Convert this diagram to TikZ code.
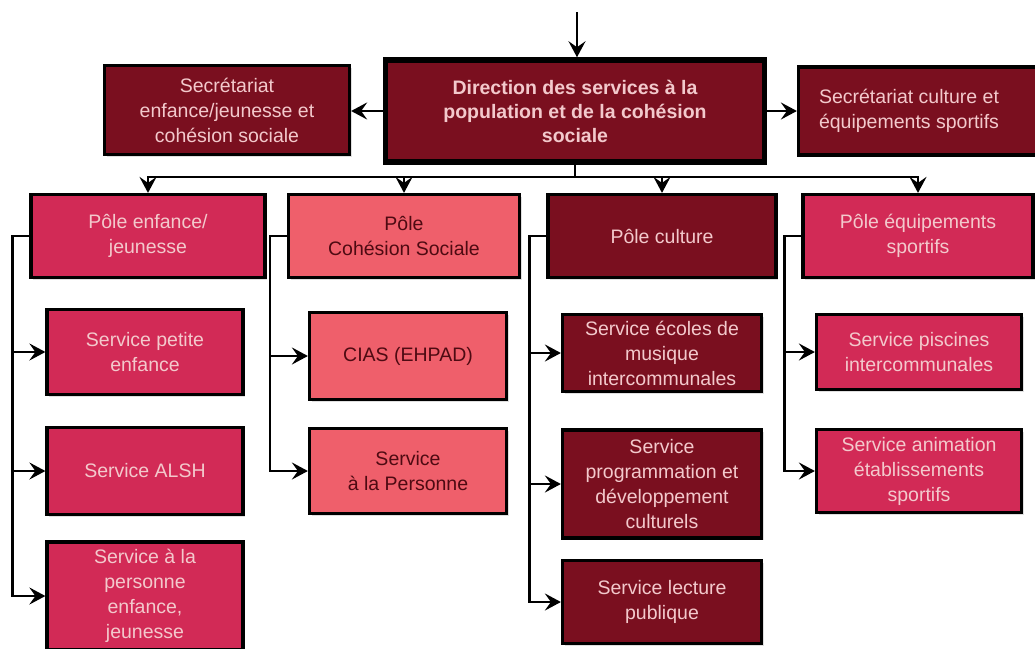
\documentclass[tikz,border=0pt]{standalone}
\usepackage{fontspec}
\setmainfont{Liberation Sans}
\usepackage{xcolor}
\usetikzlibrary{arrows.meta,shadows}

\definecolor{maroon}{HTML}{7A0F1F}
\definecolor{rosered}{HTML}{D22A56}
\definecolor{coral}{HTML}{EF5F6B}
\definecolor{palepink}{HTML}{F3C9CC}
\definecolor{wine}{HTML}{4E0A12}

\tikzset{
    box/.style={draw=black, line width=3.2pt, align=center, inner sep=2pt,
        font=\fontsize{19.5}{25}\selectfont,
        drop shadow={shadow xshift=2pt, shadow yshift=-2pt, opacity=0.25}},
    darkbox/.style={box, fill=maroon, text=palepink},
    rosebox/.style={box, fill=rosered, text=palepink},
    coralbox/.style={box, fill=coral, text=wine},
    link/.style={line width=2.4pt, -{Stealth[length=16pt,width=17pt,inset=6pt]}},
    spine/.style={line width=2.4pt}
}

\begin{document}
\begin{tikzpicture}[x=1pt,y=-1pt]
        \clip (0,0) rectangle (1035,648);
        \fill[white] (0,0) rectangle (1035,648);

        % Direction and secretariats
        \node[darkbox, line width=5.5pt, minimum width=379, minimum height=102,
              font=\fontsize{19.5}{24}\selectfont\bfseries] (dir) at (575,111)
            {Direction des services à la\\population et de la cohésion\\sociale};
        \node[darkbox, minimum width=245, minimum height=89] (secej) at (227,110)
            {Secrétariat\\enfance/jeunesse et\\cohésion sociale};
        \node[darkbox, minimum width=245, minimum height=88] (secce) at (921,111)
            {\begin{tabular}{@{}c@{}}Secrétariat culture et\\équipements sportifs\end{tabular}\hspace*{24pt}};

        % Poles
        \node[rosebox, minimum width=234, minimum height=83] (pej) at (148,236)
            {Pôle enfance/\\jeunesse};
        \node[coralbox, minimum width=231, minimum height=83] (pcs) at (404,236)
            {Pôle\\Cohésion Sociale};
        \node[darkbox, minimum width=228, minimum height=83] (pcu) at (662,236)
            {Pôle culture};
        \node[rosebox, minimum width=230, minimum height=83] (peq) at (918,236)
            {Pôle équipements\\sportifs};

        % Services enfance/jeunesse
        \node[rosebox, minimum width=196, minimum height=85] (spe) at (145,352)
            {Service petite\\enfance};
        \node[rosebox, minimum width=196, minimum height=87] (salsh) at (145,471)
            {Service ALSH};
        \node[rosebox, minimum width=196, minimum height=108] (spej) at (145,596)
            {Service à la\\personne\\enfance,\\jeunesse};

        % Services cohesion sociale
        \node[coralbox, minimum width=197, minimum height=87] (cias) at (408,356)
            {CIAS (EHPAD)};
        \node[coralbox, minimum width=197, minimum height=85] (sap) at (408,471)
            {Service\\à la Personne};

        % Services culture
        \node[darkbox, minimum width=199, minimum height=77] (sem) at (662,353)
            {Service écoles de\\musique\\intercommunales};
        \node[darkbox, minimum width=199, minimum height=108] (spdc) at (662,484)
            {Service\\programmation et\\développement\\culturels};
        \node[darkbox, minimum width=199, minimum height=83] (slp) at (662,602)
            {Service lecture\\publique};

        % Services equipements sportifs
        \node[rosebox, minimum width=205, minimum height=75] (spi) at (919,352)
            {Service piscines\\intercommunales};
        \node[rosebox, minimum width=205, minimum height=83] (saes) at (919,471)
            {Service animation\\établissements\\sportifs};

        % links from the direction
        \coordinate (top) at (577,12);
        \draw[link] (top) -- (top |- dir.north);
        \draw[link] (dir.west) -- (dir.west -| secej.east);
        \draw[link] (dir.east) -- (dir.east -| secce.west);
        \draw[spine] (dir.south) -- ++(0,12) coordinate (bus);
        \draw[link] (bus) -| (pej.north);
        \draw[link] (bus) -| (pcs.north);
        \draw[link] (bus) -| (pcu.north);
        \draw[link] (bus) -| (peq.north);

        % links from the poles
        \foreach \p/\c in {pej/spe, pej/salsh, pej/spej, pcs/cias, pcs/sap,
                           pcu/sem, pcu/spdc, pcu/slp, peq/spi, peq/saes}
            \draw[link] (\p.west) -- ++(-17,0) |- (\c.west);
    \end{tikzpicture}
\end{document}
